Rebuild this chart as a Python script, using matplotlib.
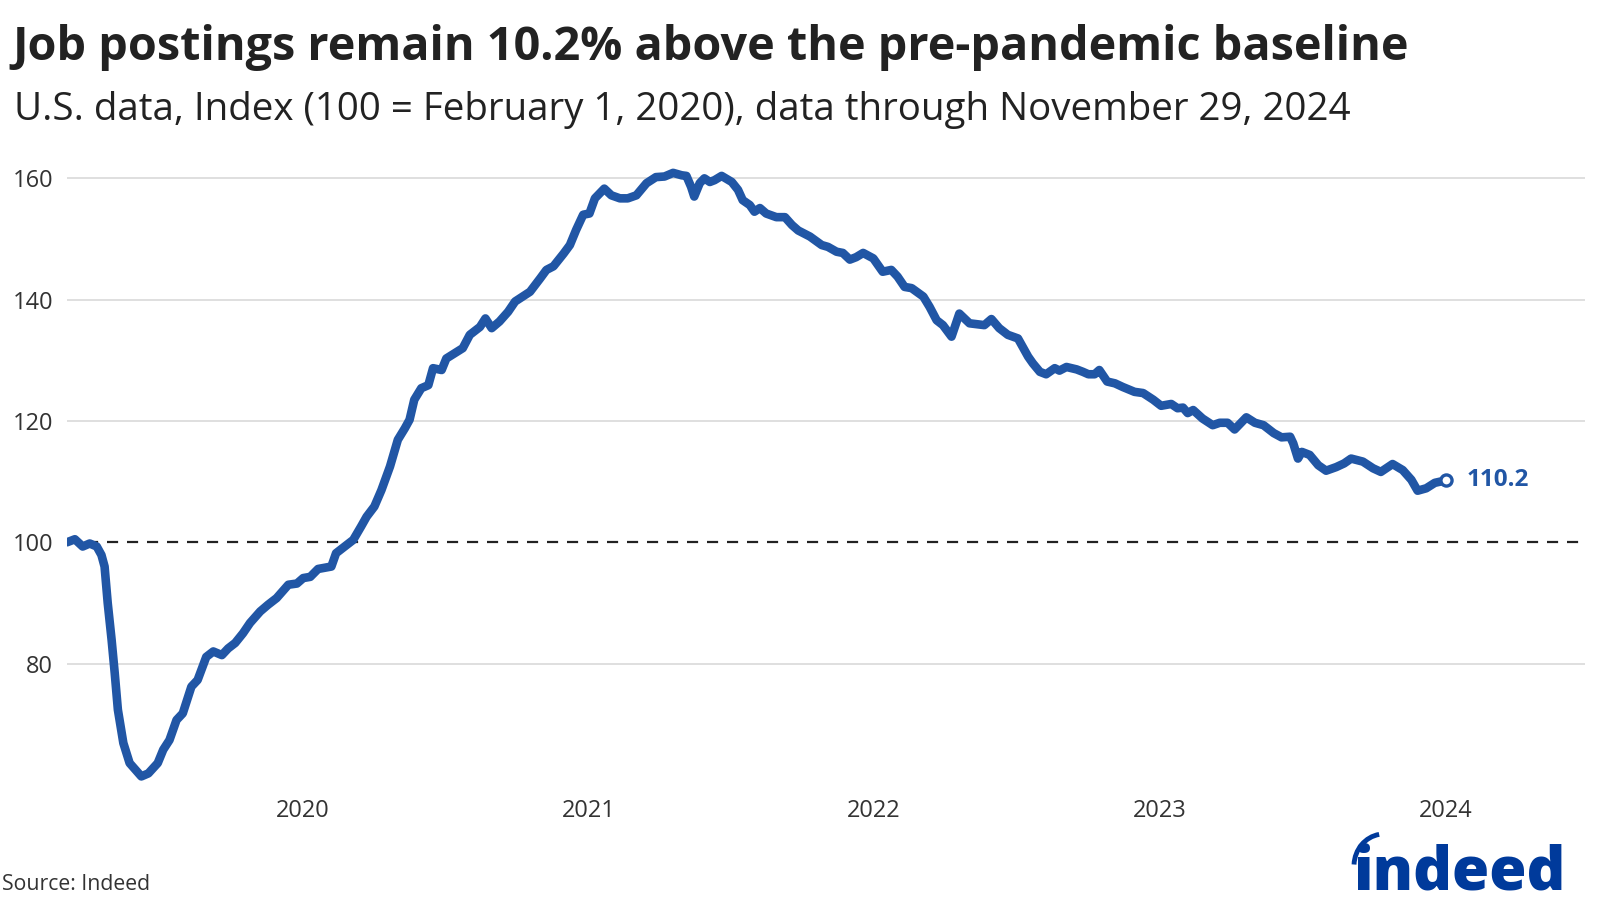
import pandas as pd
import matplotlib.pyplot as plt
from matplotlib.patches import Arc

plt.rcParams['font.family'] = ['Open Sans', 'Noto Sans', 'DejaVu Sans']

# Indeed job postings index (100 = Feb 1, 2020)
dates = [
    '2020-02-01', '2020-02-11', '2020-02-21', '2020-03-01', '2020-03-10', '2020-03-16',
    '2020-03-20', '2020-03-24', '2020-03-29', '2020-04-02', '2020-04-06', '2020-04-13',
    '2020-04-21', '2020-05-06', '2020-05-15', '2020-05-27', '2020-06-03', '2020-06-11',
    '2020-06-20', '2020-06-28', '2020-07-09', '2020-07-17', '2020-07-28', '2020-08-06',
    '2020-08-17', '2020-08-25', '2020-09-03', '2020-09-13', '2020-09-22', '2020-10-05',
    '2020-10-15', '2020-10-26', '2020-11-10', '2020-11-21', '2020-11-29', '2020-12-08',
    '2020-12-18', '2021-01-04', '2021-01-10', '2021-01-21', '2021-02-01', '2021-02-11',
    '2021-02-18', '2021-02-28', '2021-03-09', '2021-03-20', '2021-03-30', '2021-04-08',
    '2021-04-14', '2021-04-20', '2021-04-29', '2021-05-08', '2021-05-14', '2021-05-25',
    '2021-05-31', '2021-06-11', '2021-06-21', '2021-06-30', '2021-07-13', '2021-07-20',
    '2021-07-28', '2021-08-07', '2021-08-18', '2021-08-27', '2021-09-15', '2021-09-28',
    '2021-10-06', '2021-10-15', '2021-10-28', '2021-11-05', '2021-11-13', '2021-11-22',
    '2021-11-30', '2021-12-07', '2021-12-19', '2021-12-28', '2022-01-08', '2022-01-18',
    '2022-01-29', '2022-02-11', '2022-02-23', '2022-03-06', '2022-03-17', '2022-03-28',
    '2022-04-03', '2022-04-09', '2022-04-13', '2022-04-20', '2022-04-26', '2022-05-03',
    '2022-05-09', '2022-05-18', '2022-05-31', '2022-06-08', '2022-06-14', '2022-06-23',
    '2022-06-29', '2022-07-06', '2022-07-14', '2022-07-27', '2022-08-07', '2022-08-16',
    '2022-08-24', '2022-09-08', '2022-09-23', '2022-10-01', '2022-10-12', '2022-10-20',
    '2022-10-29', '2022-11-06', '2022-11-15', '2022-11-28', '2022-12-10', '2022-12-21',
    '2022-12-29', '2023-01-07', '2023-01-16', '2023-01-31', '2023-02-08', '2023-02-17',
    '2023-02-25', '2023-03-08', '2023-03-18', '2023-03-31', '2023-04-13', '2023-04-19',
    '2023-04-28', '2023-05-08', '2023-05-19', '2023-06-01', '2023-06-14', '2023-06-20',
    '2023-06-29', '2023-07-07', '2023-07-18', '2023-07-24', '2023-08-02', '2023-08-15',
    '2023-08-23', '2023-08-30', '2023-09-07', '2023-09-13', '2023-09-23', '2023-10-03',
    '2023-10-13', '2023-10-28', '2023-11-08', '2023-11-21', '2023-12-01', '2023-12-14',
    '2023-12-22', '2023-12-29', '2024-01-04', '2024-01-11', '2024-01-23', '2024-02-05',
    '2024-02-14', '2024-02-24', '2024-03-04', '2024-03-19', '2024-03-30', '2024-04-10',
    '2024-04-23', '2024-05-03', '2024-05-14', '2024-05-18', '2024-05-24', '2024-05-29',
    '2024-06-08', '2024-06-19', '2024-06-29', '2024-07-12', '2024-07-22', '2024-07-31',
    '2024-08-15', '2024-08-28', '2024-09-07', '2024-09-22', '2024-10-05', '2024-10-16',
    '2024-10-24', '2024-11-04', '2024-11-15', '2024-11-29',
]
index_values = [
    100.0, 100.5, 99.3, 99.8, 99.3, 97.9,
    96.0, 90.0, 83.9, 78.4, 72.4, 66.9,
    63.6, 61.4, 61.9, 63.6, 65.8, 67.4,
    70.7, 71.8, 76.2, 77.3, 81.1, 82.0,
    81.4, 82.5, 83.4, 85.0, 86.7, 88.6,
    89.7, 90.8, 93.0, 93.2, 94.1, 94.3,
    95.6, 96.0, 98.2, 99.3, 100.4, 102.6,
    104.2, 105.9, 108.6, 112.5, 116.9, 118.8,
    120.2, 123.5, 125.4, 125.9, 128.7, 128.4,
    130.3, 131.2, 132.0, 134.2, 135.5, 136.9,
    135.3, 136.4, 138.0, 139.7, 141.3, 143.5,
    144.9, 145.5, 147.6, 149.0, 151.5, 154.0,
    154.2, 156.7, 158.3, 157.2, 156.7, 156.7,
    157.2, 159.2, 160.2, 160.3, 160.9, 160.5,
    160.4, 158.6, 157.0, 159.2, 160.0, 159.4,
    159.7, 160.4, 159.4, 158.1, 156.4, 155.6,
    154.5, 155.1, 154.2, 153.6, 153.6, 152.3,
    151.4, 150.4, 149.0, 148.7, 147.9, 147.7,
    146.6, 147.0, 147.7, 146.8, 144.6, 144.9,
    143.8, 142.1, 141.9, 140.5, 138.8, 136.6,
    135.8, 133.9, 137.7, 136.1, 135.9, 135.8,
    136.8, 135.3, 134.2, 133.6, 130.6, 129.5,
    128.1, 127.7, 128.7, 128.3, 128.9, 128.5,
    128.1, 127.7, 127.7, 128.4, 126.5, 126.2,
    125.6, 124.8, 124.6, 123.5, 122.5, 122.8,
    122.1, 122.2, 121.3, 121.8, 120.4, 119.3,
    119.7, 119.7, 118.6, 120.6, 119.7, 119.3,
    118.0, 117.3, 117.4, 116.3, 113.8, 114.9,
    114.4, 112.7, 111.8, 112.4, 113.0, 113.8,
    113.3, 112.2, 111.6, 112.9, 111.9, 110.3,
    108.5, 108.9, 109.8, 110.2,
]
tick_dates = ['2020-11-29', '2021-11-29', '2022-11-29', '2023-11-29', '2024-11-29']
tick_labels = ['2020', '2021', '2022', '2023', '2024']
y_ticks = [80, 100, 120, 140, 160]

x = pd.to_datetime(dates)
blue = '#2156a5'
text_col = '#333333'

fig = plt.figure(figsize=(16, 9.14), dpi=100)
ax = fig.add_axes([0.0419, 0.1346, 0.9487, 0.6902])

for v in y_ticks:
    if v != 100:
        ax.axhline(v, color='#d9d9d9', lw=1.2, zorder=1)
ax.axhline(100, color='#222222', lw=1.6, ls=(0, (5, 4)), zorder=1)

ax.plot(x, index_values, color=blue, lw=6.2, solid_joinstyle='round',
        solid_capstyle='round', zorder=3)
ax.plot(x[-1:], index_values[-1:], 'o', ms=8, mfc='white', mec=blue,
        mew=2.4, zorder=4)
ax.annotate(f'{index_values[-1]:.1f}', (x[-1], index_values[-1]),
            xytext=(15, 0), textcoords='offset points', va='center',
            ha='left', fontsize=17.5, fontweight='bold', color=blue)

ax.set_xlim(pd.Timestamp('2020-02-01'), pd.Timestamp('2025-05-26'))
ax.set_ylim(59, 163)
ax.set_yticks(y_ticks)
ax.set_xticks(pd.to_datetime(tick_dates))
ax.set_xticklabels(tick_labels)
ax.tick_params(length=0, labelsize=17, labelcolor=text_col)
ax.tick_params(axis='y', pad=10)
ax.tick_params(axis='x', pad=6)
for s in ax.spines.values():
    s.set_visible(False)

fig.text(12 / 1600, 1 - 60 / 914, 'Job postings remain 10.2% above the pre-pandemic baseline',
         fontsize=33.7, fontweight='bold', color='#222222', va='baseline')
fig.text(14 / 1600, 1 - 120 / 914,
         'U.S. data, Index (100 = February 1, 2020), data through November 29, 2024',
         fontsize=27.7, color='#222222', va='baseline')
fig.text(2 / 1600, 1 - 890 / 914, 'Source: Indeed', fontsize=15.3, color=text_col,
         va='baseline')

# logo
fig.text(1353 / 1600, 1 - 889 / 914, 'indeed', fontsize=43.5, fontweight=800,
         color='#003a9b', va='baseline')
fig.patches.append(Arc((1384 / 1600, 1 - 866 / 914), 60 / 1600, 64 / 914,
                       theta1=95, theta2=175, transform=fig.transFigure,
                       color='#003a9b', lw=3.5))

plt.savefig('out.png', dpi=100)
